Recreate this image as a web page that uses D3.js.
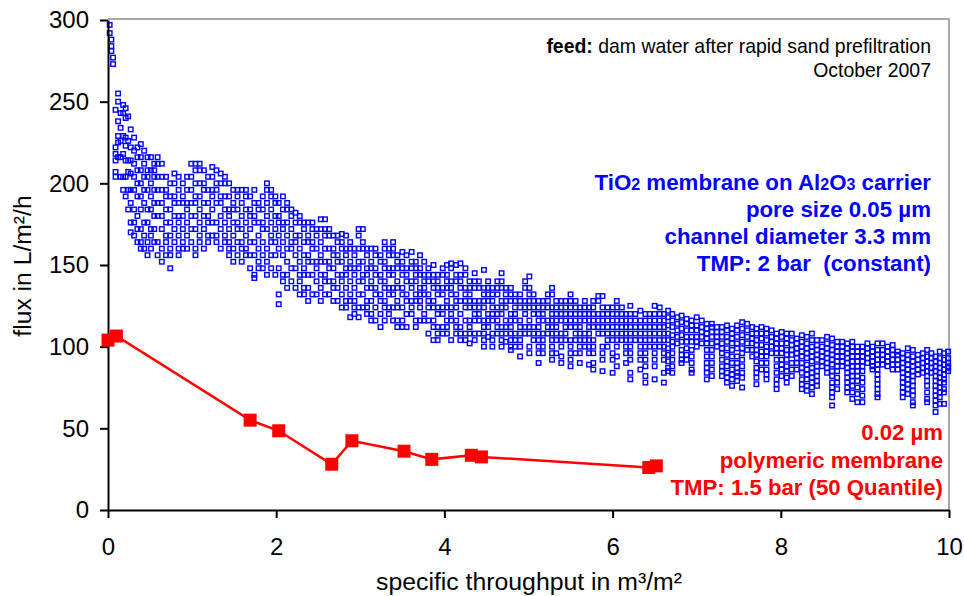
<!DOCTYPE html>
<html><head><meta charset="utf-8">
<script src="https://cdn.jsdelivr.net/npm/d3@7"></script>
<style>html,body{margin:0;background:#fff}svg{display:block}text{font-family:"Liberation Sans",Arial,sans-serif;white-space:pre}</style>
</head><body><svg id="c" width="964" height="596"></svg>
<script>
const xTicks=[0,2,4,6,8,10];
const yTicks=[0,50,100,150,200,250,300];
const xTitle="specific throughput in m³/m²";
const yTitle="flux in L/m²/h";
const redX=[0,0.1,1.69,2.03,2.66,2.9,3.52,3.85,4.32,4.44,6.43,6.52];
const redFlux=[104,106.5,55,48.5,28,42.4,36,31,33.5,32.5,26,27];
// blue readings: each row is [throughput, flux, flux, ...]
const blueColumnsA=[
[0.02,297,292],[0.04,288,284,281],[0.06,277,273],
[0.09,245,222,218,214,207,204],[0.12,255,250,238,229,225,216],[0.15,243,234,226,216,204],
[0.18,248,243,229,218,204,196],[0.21,246,240,228,223,214,204,192],[0.24,241,226,214,207,196,184],
[0.27,233,222,214,206,196,188,176,170],[0.31,228,220,212,204,196,184,176,168],[0.35,222,216,208,200,192,180,172,164],
[0.39,224,216,208,200,192,184,172,164,160],[0.43,220,212,204,196,188,176,168,160],[0.47,216,208,204,196,184,176,164,156],
[0.51,216,208,200,192,184,172,168,160],[0.55,212,208,204,196,188,180,172,164],[0.59,216,212,204,196,188,180,164,156],
[0.64,212,204,196,188,180,172,160,152],[0.69,204,196,192,184,176,168,164,156],[0.74,200,192,184,176,168,160,156,148],
[0.79,206,200,192,188,180,172,164],[0.84,204,196,188,180,176,168,160,156],[0.89,200,192,188,180,172,164,160],
[0.94,204,196,188,184,176,168,160],[0.99,212,204,196,188,180,172,164],[1.04,212,208,200,192,188,180,172,160,156],
[1.09,212,208,200,192,184,176,168,164],[1.14,208,200,196,188,180,172,160],[1.19,204,196,188,180,176,168,164],
[1.24,210,204,196,192,184,176,168],[1.29,208,200,196,188,176,168,164],[1.34,206,200,192,188,180,172,160],
[1.39,204,200,192,184,176,168,164],[1.44,200,192,184,180,172,164,160,156],[1.49,196,188,184,176,168,160,152],
[1.54,196,192,184,176,172,164,156],[1.59,196,188,180,172,164,160,152],[1.64,196,192,184,176,168,160,156],
[1.69,192,184,180,172,164,156,148],[1.74,196,188,180,176,164,156,144,142],[1.79,188,184,176,168,160,152,148],
[1.84,192,184,176,172,164,156,148],[1.89,200,196,188,180,172,160,152,144],[1.94,196,192,184,176,168,164,156,148],
[1.99,192,188,180,172,164,156,144],[2.03,188,180,176,168,160,148,132,126],[2.08,192,184,176,172,164,156,144,140],
[2.13,188,184,176,168,160,152,144,136],[2.18,184,180,172,164,160,148,140],[2.23,182,176,168,164,156,148,136],
[2.28,180,176,168,160,152,144,140,132],[2.33,176,172,164,156,148,144,136,132],[2.38,176,168,164,156,152,144,136,128],
[2.43,176,172,164,160,152,144,132],[2.48,172,168,160,152,148,140,132],[2.53,178,172,164,156,152,144,136,128],
[2.58,178,172,168,160,152,144,140,132],[2.63,172,168,160,152,148,140,132],[2.68,168,160,156,148,140,136,128],
[2.73,168,164,156,152,144,136,128],[2.78,169,164,160,152,144,140,132,124],[2.83,168,160,156,148,144,136,128,124],
[2.88,164,160,152,148,140,132,128,118],[2.93,160,156,148,144,136,128,124,120],[2.98,172,168,160,152,148,140,132,124,118]];
const blueColumnsB=[
[3.03,172,164,160,152,144,140,132,124],[3.08,160,156,148,144,136,128,124,120],[3.13,160,152,148,140,136,128,120,116],
[3.18,160,156,148,144,136,132,124,116],[3.24,156,152,144,140,132,128,120,112],[3.29,164,160,152,148,140,136,128,124,116],
[3.34,160,156,148,144,136,132,124,120],[3.39,164,160,156,148,144,136,132,124,116],[3.44,156,152,148,140,136,128,124,116,112],
[3.5,158,152,148,144,136,132,124,116,112],[3.55,156,148,144,140,132,128,120,112],[3.61,158,152,148,140,136,128,124,120],
[3.66,152,148,144,140,132,128,116,112],[3.71,156,148,144,136,132,128,124,116],[3.76,152,144,140,136,132,120,116],
[3.81,148,144,140,132,128,124,116,108],[3.87,150,144,140,136,128,124,116,112,104],[3.92,144,140,136,132,124,120,112,108,104],
[3.98,148,144,136,132,124,120,112,108],[4.03,150,144,140,136,128,124,116,112,108],[4.08,151,148,140,136,132,124,120,116,104],
[4.14,150,144,140,132,128,124,116,112,108],[4.19,151,144,140,136,128,120,112,108,104],[4.25,148,144,136,132,128,124,116,108,104],
[4.3,140,136,132,128,124,116,112,108,102],[4.36,145,140,136,128,124,120,116,108,104],[4.41,140,136,128,124,120,116,108],
[4.47,147,136,132,128,124,116,112,108,104,100],[4.52,140,136,132,128,120,116,112,106],[4.57,136,132,128,124,120,116,108,104,100],
[4.63,140,136,132,124,120,116,112,108],[4.68,145,140,136,128,124,120,112,108,104,100],[4.73,136,132,128,124,116,112,108,103],
[4.79,136,132,128,120,116,112,108,104,100,98],[4.84,132,128,124,120,116,108,104,100],[4.9,132,128,124,116,112,108,104,100,94],
[4.96,140,136,128,124,120,112,108],[5.01,143,136,132,128,124,116,112,108,100,96],[5.06,132,128,124,120,112,108,104],
[5.12,128,124,120,116,112,108,104,100,96,90],[5.17,128,124,120,116,108,104,100,96],[5.23,132,128,124,116,112,108],
[5.28,136,132,124,120,116,112,108,104,100,96,92],[5.33,128,124,120,116,112,108,104,96],[5.39,128,124,120,116,108,104,100,94,90],
[5.44,128,124,120,116,112,108,104],[5.5,132,128,124,120,116,112,104,100,96,92,88],[5.56,128,124,120,116,112,108,104,96],
[5.61,124,120,116,112,108,104,100,96,90],[5.67,128,124,120,116,108,104,100],[5.72,124,120,116,112,108,104,100,96,89],
[5.77,128,124,120,116,112,104,100,96,90,86],[5.83,131,128,120,116,112,108],[5.88,131,124,120,116,112,108,100,96,92,85],
[5.94,124,120,116,112,108,104,100],[6,124,120,116,112,108,104,96,92,84],[6.05,128,124,120,116,112,108,104,100,94,88],
[6.11,124,120,116,112,108,104],[6.16,120,116,112,108,104,100,96,90],[6.21,125,120,116,112,108,104,100,96,92,84,80],
[6.27,120,116,112,108,104],[6.33,122,116,112,108,104,100,96,92,86],[6.39,120,116,112,108,104,100,96,92,88,82,78],
[6.44,120,116,112,108,104,100],[6.5,125,120,116,112,108,104,100,96,92,88,80],[6.56,124,120,116,112,108,104,100],
[6.61,120,116,112,108,104,100,96,92,84,78],[6.66,122,118,113,108,104,99,95,91,87,85],[6.71,120,116,112,107,103,100,96,92,88,84],
[6.77,118,114,110,106,102],[6.82,119,115,111,107,103,98,95,92,90],[6.88,117,114,110,106,103,99,95,92],
[6.94,116,113,110,106,103,98,94,90,86,84],[7,118,113,110,106,103,100],[7.06,116,112,109,106,102],
[7.12,114,111,108,105,102,98,94,90,87,84,80],[7.18,114,112,109,106,102,98,94,90,86,82],[7.24,112,109,106,103,100],
[7.3,112,109,106,102,99,96,92,88,85,82],[7.36,113,110,106,103,99,95,91,88,84,81,78],[7.42,111,108,105,102,98,94,90,86,83,80,76],
[7.48,113,110,106,102,99,94,90,87,84,82,79],[7.54,115,111,107,103,99,96,92,88,84,81,75],[7.6,114,110,106,102,98],
[7.66,112,108,105,102,98,94],[7.71,111,108,104,101,98,95,91,87,84,81,77],[7.77,112,108,105,101,97,94,90,86],
[7.83,111,108,104,100,97,94,90,86,83,80],[7.89,110,106,103,100,96],[7.95,108,105,102,99,96,92,88,84,80,77,74],
[8.01,109,106,102,99,96,92,89,86,82],[8.07,108,105,102,98,95,92,88,85,81,78],[8.13,108,104,101,98,95,90,86,82],
[8.19,105,102,99,96,93,90,86],[8.25,107,103,100,97,94,90,87,84,80,77,74],[8.31,106,102,99,96,93,89,86,83,80,76,73],
[8.37,108,104,100,97,94,91,87,84,81,78,75,71],[8.43,104,101,98,95,92,88,85,82,79,76],[8.49,104,100,97,94,91,88],
[8.55,106,102,99,96,93,90,87,84],[8.61,105,101,98,95,92,89,85,82,78,75,72,69,64],[8.67,103,100,97,94,91,88,85,81,78,74],
[8.73,103,100,97,94,91,88],[8.79,102,99,96,93,90,87,84,81,78,75,72],[8.85,103,100,97,94,91,88,85,82,79,76,72,68],
[8.91,100,97,94,91,88,85,82,79,75,71,66],[8.97,100,97,94,91,88,85,81,78,74,70,66],[9.03,102,99,96,93,90],
[9.09,100,97,94,91,88,86],[9.15,102,98,95,92,89,86,83,80,77,74,71,69],[9.21,102,98,95,92,89],
[9.27,100,97,94,91,88],[9.33,101,98,95,92,89,86],[9.39,97,95,92,89,86],[9.45,96,93,90,87,84,81,78,75,72,69],
[9.51,99,95,92,89,86,83,80,77,74,71],[9.57,98,94,91,88,85,82,79,76,73,70,66,64],[9.63,95,92,89,86,83],
[9.69,96,93,90,87,84],[9.74,98,94,91,88,85,82,79,76,72,68,66],[9.79,96,93,90,87,84],
[9.84,94,91,88,85,82,79,76,73,70,67,64,60],[9.89,97,93,90,87,84,81,78,75,72,69,65],[9.94,96,92,89,86,83,80,78,74,72,65],
[9.99,97,93,90,87,85,88]];
const blueText=[["TiO","2"," membrane on Al","2","O","3"," carrier"],["pore size 0.05 µm"],["channel diameter 3.3 mm"],["TMP: 2 bar  (constant)"]];
const redText=["0.02 µm","polymeric membrane","TMP: 1.5 bar (50 Quantile)"];

const svg=d3.select("#c");
const x=d3.scaleLinear().domain([0,10]).range([108,949]);
const y=d3.scaleLinear().domain([0,300]).range([510,20]);

svg.append("path").attr("d",`M${x(0)},${y(300)-1}H${x(10)}V${y(0)}`).attr("fill","none").attr("stroke","#8c8c8c").attr("stroke-width",1.5);

const bluePts=blueColumnsA.concat(blueColumnsB).flatMap(c=>c.slice(1).map(f=>[c[0],f]));
svg.append("g").selectAll("rect").data(bluePts).join("rect")
 .attr("x",d=>x(d[0])-2.25).attr("y",d=>y(d[1])-2.25).attr("width",4.5).attr("height",4.5)
 .attr("fill","none").attr("stroke","#0000ff").attr("stroke-width",1.4);

const ax=d3.axisBottom(x).tickValues(xTicks).tickSize(8).tickPadding(20).tickSizeOuter(0);
const ay=d3.axisLeft(y).tickValues(yTicks).tickSize(8).tickPadding(11).tickSizeOuter(0);
const gx=svg.append("g").attr("transform",`translate(0,${y(0)})`).call(ax);
const gy=svg.append("g").attr("transform",`translate(${x(0)},0)`).call(ay);
[gx,gy].forEach(g=>{
  g.selectAll("path,line").attr("stroke","#000").attr("stroke-width",2);
  g.selectAll("text").attr("font-size",24).attr("fill","#000").attr("font-family","Liberation Sans");
});

const line=d3.line().x((d,i)=>x(redX[i])).y(d=>y(d));
svg.append("path").attr("d",line(redFlux)).attr("fill","none").attr("stroke","#ff0000").attr("stroke-width",2.5);
svg.append("g").selectAll("rect").data(redFlux).join("rect")
 .attr("x",(d,i)=>x(redX[i])-6.5).attr("y",d=>y(d)-6.5).attr("width",13).attr("height",13).attr("fill","#ff0000");

svg.append("text").attr("x",529).attr("y",590).attr("text-anchor","middle").attr("font-size",24.8).text(xTitle);
svg.append("text").attr("transform","translate(31,266) rotate(-90)").attr("text-anchor","middle").attr("font-size",24.7).text(yTitle);

const feed=svg.append("text").attr("x",931).attr("y",53).attr("text-anchor","end").attr("font-size",19.45);
feed.append("tspan").attr("font-weight","bold").text("feed:");
feed.append("tspan").text(" dam water after rapid sand prefiltration");
svg.append("text").attr("x",931).attr("y",77).attr("text-anchor","end").attr("font-size",19.45).text("October 2007");

const blueY=[190,217,244,271];
blueText.forEach((parts,i)=>{
  const t=svg.append("text").attr("x",931).attr("y",blueY[i]).attr("text-anchor","end").attr("font-weight","bold").attr("fill","#0000ff");
  parts.forEach(p=>{
    const sub=/^[0-9]$/.test(p);
    t.append("tspan").attr("font-size",sub?16:22.3).text(p);
  });
});
const redY=[440,468,495];
redText.forEach((s,i)=>svg.append("text").attr("x",943).attr("y",redY[i]).attr("text-anchor","end").attr("font-size",22.2).attr("font-weight","bold").attr("fill","#ff0000").text(s));
</script></body></html>
